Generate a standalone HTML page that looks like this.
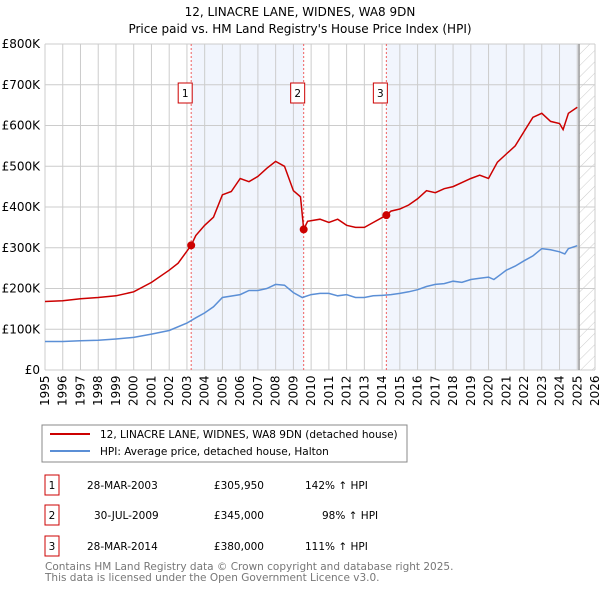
<!DOCTYPE html>
<html><head><meta charset="utf-8"><style>
body{margin:0;background:#fff;width:600px;height:590px;overflow:hidden;font-family:"DejaVu Sans","Liberation Sans",sans-serif;}
svg text{font-family:"DejaVu Sans","Liberation Sans",sans-serif;}
</style></head><body>
<svg id="c" width="600" height="590" xmlns="http://www.w3.org/2000/svg">
<defs><pattern id="h" width="8" height="8" patternUnits="userSpaceOnUse" patternTransform="rotate(45)"><line x1="0" y1="0" x2="0" y2="8" stroke="#ccc" stroke-width="1"/></pattern></defs>
<text x="300" y="16" text-anchor="middle" font-size="12">12, LINACRE LANE, WIDNES, WA8 9DN</text>
<text x="300" y="33" text-anchor="middle" font-size="12">Price paid vs. HM Land Registry's House Price Index (HPI)</text>
<g id="plot"></g>
<rect x="42" y="425" width="365" height="37" fill="#fff" stroke="#888"/>
<line x1="50" y1="434" x2="90" y2="434" stroke="#cc0000" stroke-width="2"/>
<text x="100" y="438" font-size="10.5">12, LINACRE LANE, WIDNES, WA8 9DN (detached house)</text>
<line x1="50" y1="451" x2="90" y2="451" stroke="#5b8fd6" stroke-width="2"/>
<text x="100" y="455" font-size="10.5">HPI: Average price, detached house, Halton</text>
<g font-size="10.5">
<rect x="45" y="475" width="14" height="20" fill="none" stroke="#c00"/><text x="52" y="489" text-anchor="middle">1</text>
<text x="87" y="489">28-MAR-2003</text><text x="264" y="489" text-anchor="end">£305,950</text><text x="305" y="489">142% ↑ HPI</text>
<rect x="45" y="505" width="14" height="20" fill="none" stroke="#c00"/><text x="52" y="519" text-anchor="middle">2</text>
<text x="94" y="519">30-JUL-2009</text><text x="264" y="519" text-anchor="end">£345,000</text><text x="322" y="519">98% ↑ HPI</text>
<rect x="45" y="536" width="14" height="20" fill="none" stroke="#c00"/><text x="52" y="550" text-anchor="middle">3</text>
<text x="87" y="550">28-MAR-2014</text><text x="264" y="550" text-anchor="end">£380,000</text><text x="305" y="550">111% ↑ HPI</text>
</g>
<text x="45" y="570" font-size="10.5" fill="#777">Contains HM Land Registry data © Crown copyright and database right 2025.</text>
<text x="45" y="581" font-size="10.5" fill="#777">This data is licensed under the Open Government Licence v3.0.</text>
</svg>
<script>
const hpiYears=[1995,1996,1997,1998,1999,2000,2001,2002,2003,2003.5,2004,2004.5,2005,2006,2006.5,2007,2007.5,2008,2008.5,2009,2009.5,2010,2010.5,2011,2011.5,2012,2012.5,2013,2013.5,2014,2014.5,2015,2015.5,2016,2016.5,2017,2017.5,2018,2018.5,2019,2019.5,2020,2020.3,2020.7,2021,2021.5,2022,2022.5,2023,2023.5,2024,2024.3,2024.5,2025];
const hpiValues=[70,70,72,73,76,80,88,97,115,128,140,155,178,185,195,195,200,210,208,190,178,185,188,188,182,185,178,178,182,183,185,188,192,197,205,210,212,218,215,222,225,228,222,235,245,255,268,280,298,295,290,285,298,305];
const priceYears=[1995,1996,1997,1998,1999,2000,2001,2002,2002.5,2003.24,2003.5,2004,2004.5,2005,2005.5,2006,2006.5,2007,2007.5,2008,2008.5,2009,2009.4,2009.58,2009.8,2010.5,2011,2011.5,2012,2012.5,2013,2013.5,2014.24,2014.5,2015,2015.5,2016,2016.5,2017,2017.5,2018,2018.5,2019,2019.5,2020,2020.5,2021,2021.5,2022,2022.5,2023,2023.5,2024,2024.2,2024.5,2025];
const priceValues=[168,170,175,178,182,192,215,245,262,306,330,355,375,430,438,470,462,475,495,512,500,440,425,345,365,370,362,370,355,350,350,362,380,390,395,405,420,440,435,445,450,460,470,478,470,510,530,550,585,620,630,610,605,590,630,645];
const saleLabels=["1","2","3"];
const saleYears=[2003.24,2009.58,2014.24];
const saleValues=[305.95,345,380];
const yTicks=[0,100,200,300,400,500,600,700,800];
const yTickLabels=["£0","£100K","£200K","£300K","£400K","£500K","£600K","£700K","£800K"];
const xTicks=[];for(let y=1995;y<=2026;y++)xTicks.push(y);

const X0=45,X1=595,Y0=370,Y1=44;
const xs=y=>X0+(y-1995)/(2026-1995)*(X1-X0);
const ys=v=>Y0-v/800*(Y0-Y1);
const NS="http://www.w3.org/2000/svg";
const g=document.getElementById('plot');
function mk(t,a){const e=document.createElementNS(NS,t);for(const k in a)e.setAttribute(k,a[k]);g.appendChild(e);return e;}
let e=mk('rect',{x:xs(saleYears[0]),y:Y1,width:xs(saleYears[1])-xs(saleYears[0]),height:Y0-Y1,fill:'#eef3fc',opacity:0.8});


const endY=2025.1;
e=mk('rect',{x:xs(saleYears[2]),y:Y1,width:xs(endY)-xs(saleYears[2]),height:Y0-Y1,fill:'#eef3fc',opacity:0.8});


e=mk('rect',{x:xs(endY),y:Y1,width:X1-xs(endY),height:Y0-Y1,fill:'url(#h)'});


xTicks.forEach(t=>{const l=mk('line',{x1:xs(t),x2:xs(t),y1:Y1,y2:Y0,stroke:'#ccc'});


const tx=mk('text',{x:0,y:0,'font-size':'12',transform:`translate(${xs(t)+4},${Y0+36}) rotate(-90)`});tx.textContent=t;

});
yTicks.forEach((t,i)=>{const l=mk('line',{x1:X0,x2:X1,y1:ys(t),y2:ys(t),stroke:'#ccc'});


const tx=mk('text',{x:X0-5,y:ys(t)+4,'font-size':'12','text-anchor':'end'});tx.textContent=yTickLabels[i];

});
e=mk('line',{x1:xs(endY),x2:xs(endY),y1:Y1,y2:Y0,stroke:'#999','stroke-width':1.5});


saleYears.forEach((s,i)=>{const l=mk('line',{x1:xs(s),x2:xs(s),y1:Y1,y2:Y0,stroke:'#f06060','stroke-dasharray':'2,2'});


const r=mk('rect',{x:xs(s)-13,y:83,width:14,height:20,fill:'#fff',stroke:'#c00'});


const t=mk('text',{x:xs(s)-6,y:97,'font-size':'10.5','text-anchor':'middle'});t.textContent=saleLabels[i];

});
const pts=(a,b)=>a.map((y,i)=>xs(y).toFixed(1)+','+ys(b[i]).toFixed(1)).join(' ');
e=mk('polyline',{points:pts(hpiYears,hpiValues),fill:'none',stroke:'#5b8fd6','stroke-width':1.5});


e=mk('polyline',{points:pts(priceYears,priceValues),fill:'none',stroke:'#cc0000','stroke-width':1.5});


saleYears.forEach((s,i)=>{const c=mk('circle',{cx:xs(s),cy:ys(saleValues[i]),r:4,fill:'#cc0000'});

});
</script>
</body></html>
